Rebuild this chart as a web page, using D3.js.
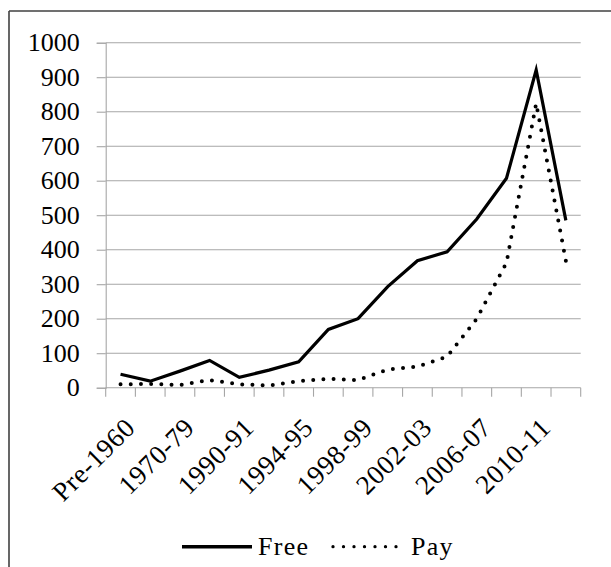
<!DOCTYPE html>
<html><head><meta charset="utf-8">
<script src="https://cdn.jsdelivr.net/npm/d3@7/dist/d3.min.js"></script>
<style>
body{margin:0;background:#fff;}
text{font-family:"Liberation Serif","Times New Roman",serif;fill:#000;}
</style></head><body>
<svg id="chart" width="611" height="567"></svg>
<script>
const categories = ["Pre-1960","1960-69","1970-79","1980-89","1990-91","1992-93","1994-95","1996-97","1998-99","2000-01","2002-03","2004-05","2006-07","2008-09","2010-11","2012-13"];
const freeValues = [39,19,48,79,30,51,75,169,200,293,368,394,489,607,921,485];
const payValues  = [10,11,8,22,10,6,19,26,22,53,61,90,200,362,824,368];
const yTicks = [0,100,200,300,400,500,600,700,800,900,1000];
const seriesNames = ["Free","Pay"];

const svg = d3.select("#chart");
const L = 105.7, R = 580.7, T = 42.7, B = 387.7;
const fontSize = 26;

// frame
svg.append("line").attr("x1",9).attr("y1",11).attr("x2",611).attr("y2",11).attr("stroke","#404040").attr("stroke-width",1.6);
svg.append("line").attr("x1",9).attr("y1",11).attr("x2",9).attr("y2",567).attr("stroke","#404040").attr("stroke-width",1.6);

const x = d3.scaleBand().domain(categories).range([L,R]).padding(0);
const y = d3.scaleLinear().domain([0,1000]).range([B,T]);
const cx = c => x(c) + x.bandwidth()/2;

// gridlines + y axis
const yAxis = d3.axisLeft(y).tickValues(yTicks).tickSize(9).tickPadding(17).tickFormat(d3.format("d"));
const gy = svg.append("g").attr("transform",`translate(${L},0)`).call(yAxis);
gy.select(".domain").attr("stroke","#a6a6a6").attr("stroke-width",1.1);
gy.selectAll(".tick line").attr("stroke","#a6a6a6").attr("stroke-width",1.1);
gy.selectAll(".tick text").attr("font-size",fontSize).attr("font-family","Liberation Serif").attr("fill","#000").attr("dy","0.3em");
svg.append("g").selectAll("line").data(yTicks.filter(d=>d>0)).join("line")
  .attr("x1",L).attr("x2",R).attr("y1",d=>y(d)).attr("y2",d=>y(d))
  .attr("stroke","#a6a6a6").attr("stroke-width",1.1);

// x axis
const boundaries = categories.map(c=>x(c)).concat([R]);
svg.append("line").attr("x1",L).attr("x2",R).attr("y1",B).attr("y2",B).attr("stroke","#a6a6a6").attr("stroke-width",1.1);
svg.append("g").selectAll("line").data(boundaries).join("line")
  .attr("x1",d=>d).attr("x2",d=>d).attr("y1",B).attr("y2",B+9)
  .attr("stroke","#a6a6a6").attr("stroke-width",1.1);
svg.append("g").selectAll("text").data(categories.filter((c,i)=>i%2===0)).join("text")
  .attr("transform",d=>`translate(${cx(d)+9.5},${B+35}) rotate(-45)`)
  .attr("text-anchor","end").attr("dy","0.35em").attr("font-size",27).attr("letter-spacing",0.6)
  .text(d=>d);

// lines
const line = vals => d3.line().x((d,i)=>cx(categories[i])).y(d=>y(d))(vals);
svg.append("path").attr("d",line(payValues)).attr("fill","none").attr("stroke","#000")
  .attr("stroke-width",4).attr("stroke-linecap","round").attr("stroke-dasharray","0 10.2");
svg.append("path").attr("d",line(freeValues)).attr("fill","none").attr("stroke","#000")
  .attr("stroke-width",3.2).attr("stroke-linejoin","miter").attr("stroke-miterlimit",20);

// legend
const ly = 546.7;
svg.append("line").attr("x1",182).attr("x2",252).attr("y1",ly).attr("y2",ly).attr("stroke","#000").attr("stroke-width",3.5);
svg.append("text").attr("x",258).attr("y",ly).attr("dy","0.3em").attr("font-size",fontSize).attr("letter-spacing",1.3).text(seriesNames[0]);
svg.append("line").attr("x1",333).attr("x2",397).attr("y1",ly).attr("y2",ly).attr("stroke","#000")
  .attr("stroke-width",3.3).attr("stroke-linecap","round").attr("stroke-dasharray","0 10.5");
svg.append("text").attr("x",411).attr("y",ly).attr("dy","0.3em").attr("font-size",fontSize).attr("letter-spacing",1.3).text(seriesNames[1]);
</script>
</body></html>
